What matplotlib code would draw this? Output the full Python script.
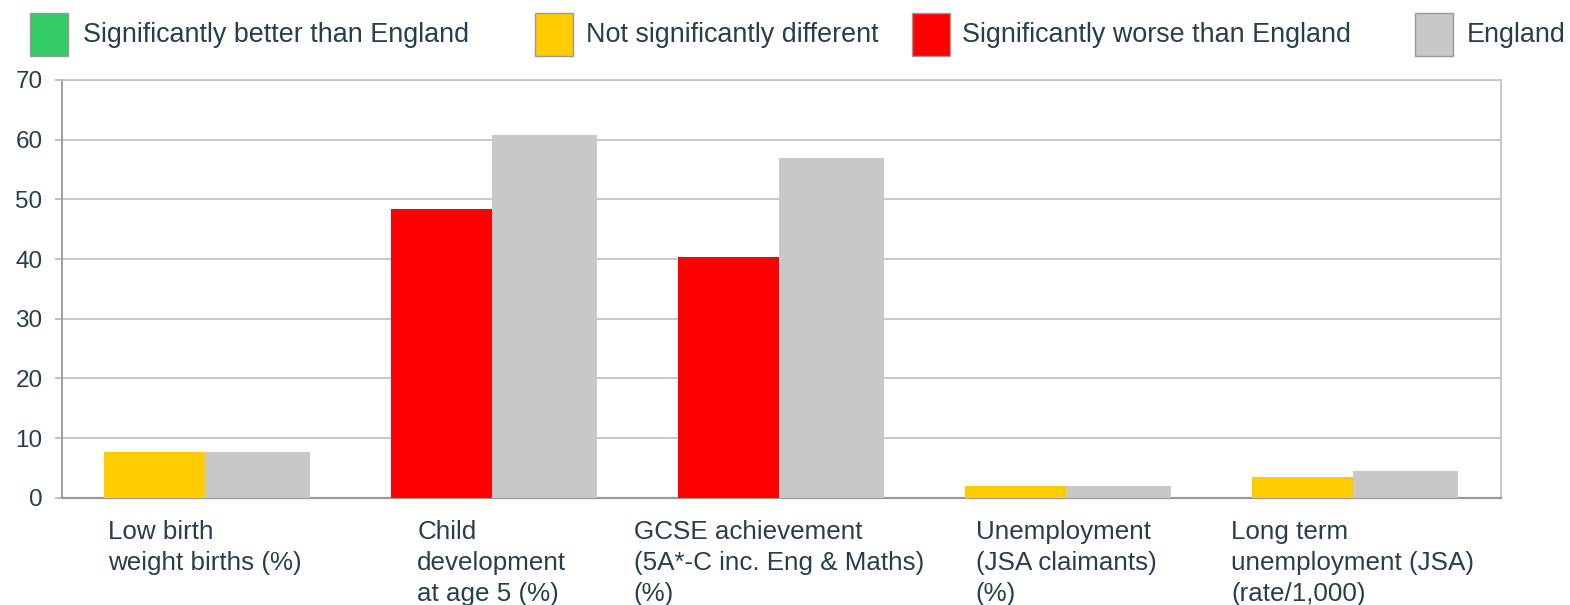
import matplotlib
matplotlib.use("Agg")
import matplotlib.pyplot as plt
from matplotlib.patches import Rectangle
import numpy as np

plt.rcParams['font.family'] = ['Liberation Sans', 'DejaVu Sans']

categories = ["Low birth\nweight births (%)",
              "Child\ndevelopment\nat age 5 (%)",
              "GCSE achievement\n(5A*-C inc. Eng & Maths)\n(%)",
              "Unemployment\n(JSA claimants)\n(%)",
              "Long term\nunemployment (JSA)\n(rate/1,000)"]
local_values = [7.7, 48.3, 40.4, 1.9, 3.5]
england_values = [7.6, 60.7, 57.0, 1.9, 4.4]
local_status = ["similar", "worse", "worse", "similar", "similar"]

legend_labels = ["Significantly better than England", "Not significantly different",
                 "Significantly worse than England", "England"]
status_colors = {"better": "#33CC66", "similar": "#FFCC00", "worse": "#FF0000"}
england_color = "#C8C8C8"
text_color = "#263F4A"
yticks = [0, 10, 20, 30, 40, 50, 60, 70]

fig = plt.figure(figsize=(15.7, 6.05), dpi=100)
W, H = 1570, 605
ax = fig.add_axes([62 / W, (H - 497.7) / H, 1439 / W, 417.7 / H])

x = np.arange(len(categories))
ax.bar(x, local_values, width=-0.35, align='edge',
       color=[status_colors[s] for s in local_status], zorder=3)
ax.bar(x, england_values, width=0.365, align='edge', color=england_color, zorder=3)

ax.set_xlim(-0.498, 4.516)
ax.set_ylim(0, 70)
ax.set_yticks(yticks)
ax.set_yticklabels([str(v) for v in yticks], fontsize=17.5, color=text_color)
ax.tick_params(axis='y', length=5, width=1.3, color='#BBBBBB', pad=9)
ax.set_xticks([])
ax.grid(axis='y', color='#C4C4C4', linewidth=1.3, zorder=0)
for side in ['top', 'right']:
    ax.spines[side].set_color('#C4C4C4')
    ax.spines[side].set_linewidth(1.3)
ax.spines['left'].set_color('#999999')
ax.spines['left'].set_linewidth(1.3)
ax.spines['bottom'].set_color('#999999')
ax.spines['bottom'].set_linewidth(1.6)

for xi, lab in zip(x, categories):
    ax.text(xi, -3.8, lab, ha='center', va='top', multialignment='left',
            fontsize=18.7, color=text_color, linespacing=1.36)

# legend
legend_colors = [status_colors["better"], status_colors["similar"],
                 status_colors["worse"], england_color]
sq_x = [30, 535, 912, 1415]
txt_x = [83, 586, 962, 1467]
for c, lab, sx, tx in zip(legend_colors, legend_labels, sq_x, txt_x):
    fig.patches.append(Rectangle((sx / W, 1 - 56 / H), 38 / W, 43 / H,
                                 transform=fig.transFigure, facecolor=c,
                                 edgecolor='#999999', linewidth=1))
    fig.text(tx / W, 1 - 35 / H, lab, ha='left', va='center', fontsize=19.4,
             color=text_color)

fig.savefig("out.png", dpi=100)
